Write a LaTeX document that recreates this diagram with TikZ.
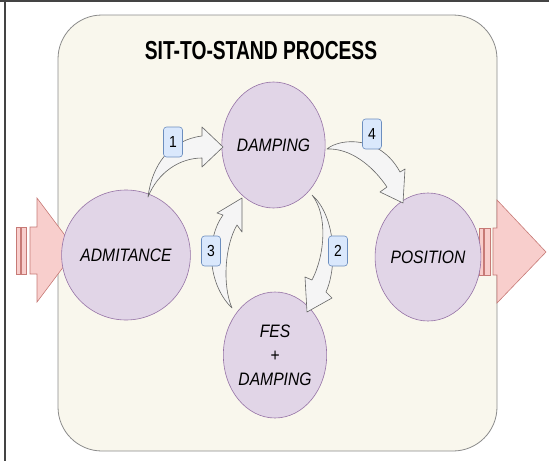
\documentclass[tikz,border=0pt]{standalone}
\usepackage{fontspec}
\setmainfont{Liberation Sans}[FakeStretch=0.87]
\newfontfamily\titlefont{Liberation Sans}[FakeStretch=0.74]
\usetikzlibrary{shapes.geometric}
\definecolor{boxfill}{HTML}{F9F7ED}
\definecolor{boxline}{HTML}{8A8A8A}
\definecolor{ellfill}{HTML}{E1D5E7}
\definecolor{ellline}{HTML}{9673A6}
\definecolor{pinkfill}{HTML}{F8CECC}
\definecolor{pinkline}{HTML}{C77A76}
\definecolor{arrfill}{HTML}{F5F5F5}
\definecolor{arrline}{HTML}{666666}
\definecolor{numfill}{HTML}{DAE8FC}
\definecolor{numline}{HTML}{6C8EBF}
\definecolor{framecol}{HTML}{444444}
\tikzset{
  stage/.style={ellipse, draw=ellline, fill=ellfill, line width=0.6pt, inner sep=0pt,
    font=\fontsize{18}{24}\selectfont\itshape, align=center},
  numbox/.style={draw=numline, fill=numfill, rounded corners=3pt, minimum width=19pt,
    minimum height=30pt, inner sep=0pt, line width=0.6pt, font=\fontsize{16}{16}\selectfont},
  blockarrow/.style={draw=arrline, fill=arrfill, line width=0.6pt, line join=round},
  bigarrow/.style={draw=pinkline, fill=pinkfill, line width=0.6pt},
}
\begin{document}
\begin{tikzpicture}[x=1pt,y=-1pt]
\useasboundingbox (0,0) rectangle (549,461);
% outer frame lines
\draw[framecol, line width=1.2pt] (0,1) -- (549,1);
\draw[framecol, line width=1.2pt] (5,0) -- (5,461);
% process box
\draw[boxline, fill=boxfill, line width=0.8pt, rounded corners=44pt] (58,15) rectangle (497,451);
\node[font=\fontsize{26}{28}\selectfont\titlefont\bfseries] (title) at (261,51) {SIT-TO-STAND PROCESS};
% input big arrow
\draw[bigarrow] (16,227) rectangle (20,274);
\draw[bigarrow] (21.7,227) rectangle (26.7,274);
\draw[bigarrow] (30,227) -- (37,227) -- (37,198) -- (76,250) -- (37,302) -- (37,274) -- (30,274) -- cycle;
% output big arrow
\draw[bigarrow] (479,228) rectangle (483,275);
\draw[bigarrow] (484.5,228) rectangle (490,275);
\draw[bigarrow] (493,228) -- (497,228) -- (497,200) -- (546,252) -- (497,303) -- (497,275) -- (493,275) -- cycle;
% stages
\node[stage, minimum width=94pt, minimum height=130pt] (adm) at (126,255) {ADMITANCE};
\node[stage, minimum width=90pt, minimum height=126pt] (damp) at (273.5,145) {DAMPING};
\node[stage, minimum width=96pt, minimum height=128pt] (pos) at (428,257) {POSITION};
\node[stage, minimum width=90pt, minimum height=126pt] (fes) at (275,355) {FES\\+\\DAMPING};
% curved block arrows
\draw[blockarrow] (148,197) .. controls (152,165) and (170,140) .. (202,136) -- (202,127) -- (223,147)
  -- (202,167) -- (202,158) .. controls (180,158) and (158,172) .. (148,197) -- cycle;
\draw[blockarrow] (327,149) .. controls (340,138) and (380,135) .. (400,172) -- (405,169) -- (403,203)
  -- (380,192) -- (387,187) .. controls (372,165) and (350,148) .. (327,149) -- cycle;
\draw[blockarrow] (312,195) .. controls (335,215) and (338,265) .. (326,292) -- (332,298) -- (307,312)
  -- (305,277) -- (312,280) .. controls (325,255) and (328,215) .. (312,195) -- cycle;
\draw[blockarrow] (232,308) .. controls (208,285) and (205,240) .. (223,215) -- (217,213) -- (242,198)
  -- (242,232) -- (237,225) .. controls (225,245) and (222,285) .. (232,308) -- cycle;
% step numbers
\node[numbox] (n1) at (173,142) {1};
\node[numbox] (n2) at (338,251) {2};
\node[numbox] (n3) at (211,251) {3};
\node[numbox] (n4) at (372,134) {4};
\end{tikzpicture}
\end{document}
